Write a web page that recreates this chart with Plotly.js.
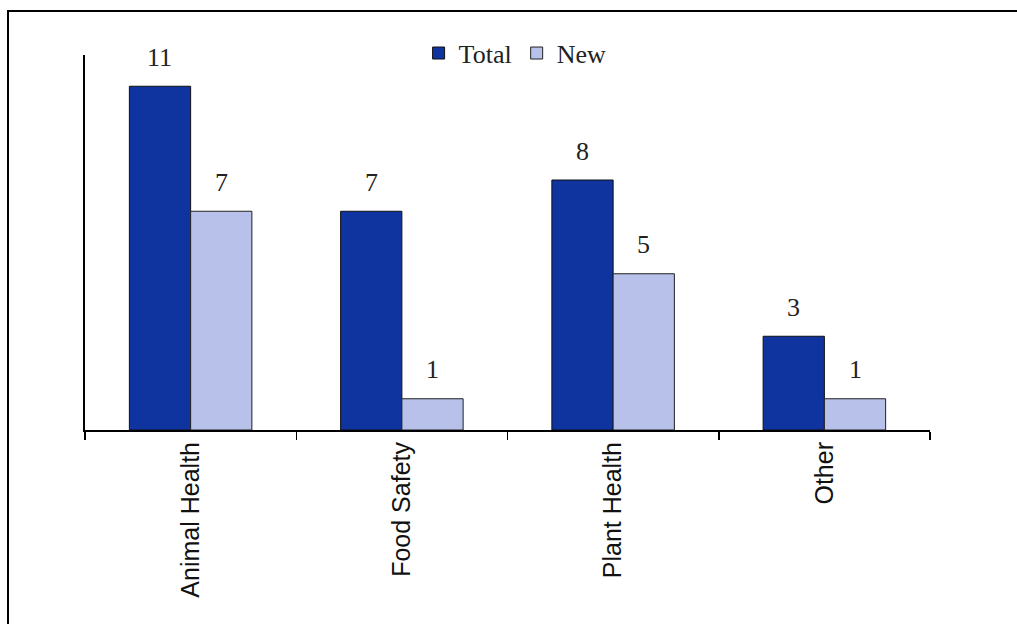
<!DOCTYPE html>
<html>
<head>
<meta charset="utf-8">
<script src="https://cdn.plot.ly/plotly-3.0.1.min.js"></script>
<style>
  html, body { margin: 0; padding: 0; background: #fff; }
  #wrap { position: absolute; left: 0; top: 0; width: 1017px; height: 624px; overflow: hidden; }
  #frame { position: absolute; left: 7px; top: 10px; width: 1020px; height: 620px;
           border-top: 2px solid #000; border-left: 2px solid #000; pointer-events: none; }
  #chart { position: absolute; left: 0; top: 0; width: 1017px; height: 624px; }
</style>
</head>
<body>
<div id="wrap">
  <div id="chart"></div>
  <div id="frame"></div>
</div>
<script>
const categories = ["Animal Health", "Food Safety", "Plant Health", "Other"];
const totalValues = [11, 7, 8, 3];
const newValues = [7, 1, 5, 1];
const seriesNames = ["Total", "New"];

const bargap = 0.42;
const half = (1 - bargap) / 4;
const serif = "Liberation Serif, Times New Roman, serif";

const traces = [
  {
    type: "bar", name: seriesNames[0], x: categories, y: totalValues,
    marker: { color: "#0f34a0", line: { color: "#111", width: 1 } },
    hoverinfo: "none"
  },
  {
    type: "bar", name: seriesNames[1], x: categories, y: newValues,
    marker: { color: "#b7c1ea", line: { color: "#222", width: 1 } },
    hoverinfo: "none"
  }
];

const annotations = [];
[totalValues, newValues].forEach((vals, s) => {
  vals.forEach((v, i) => {
    annotations.push({
      x: i + (s === 0 ? -half : half), y: v, xref: "x", yref: "y",
      text: String(v), showarrow: false, yanchor: "middle", yshift: 29,
      font: { family: serif, size: 26, color: "#222" }
    });
  });
});

const layout = {
  width: 1017, height: 624,
  margin: { l: 85, r: 87, t: 55, b: 194 },
  paper_bgcolor: "#fff", plot_bgcolor: "#fff",
  barmode: "group", bargap: bargap, bargroupgap: 0,
  showlegend: true,
  legend: {
    orientation: "h", x: 0.509, xanchor: "center", y: 1.005, yanchor: "middle",
    font: { family: serif, size: 26, color: "#222" },
    bgcolor: "rgba(0,0,0,0)", itemwidth: 30, traceorder: "normal"
  },
  xaxis: {
    type: "category", tickson: "boundaries", ticks: "outside", ticklen: 8,
    tickcolor: "#000", tickwidth: 1.5,
    showline: true, linecolor: "#000", linewidth: 2,
    showgrid: false, zeroline: false, tickangle: -90,
    tickfont: { family: "Liberation Sans, Arial, sans-serif", size: 25, color: "#111" }
  },
  yaxis: {
    range: [0, 12], showline: true, linecolor: "#000", linewidth: 2,
    showgrid: false, zeroline: false, showticklabels: false, ticks: ""
  },
  annotations: annotations
};

Plotly.newPlot("chart", traces, layout, { displayModeBar: false, staticPlot: true });
</script>
</body>
</html>
